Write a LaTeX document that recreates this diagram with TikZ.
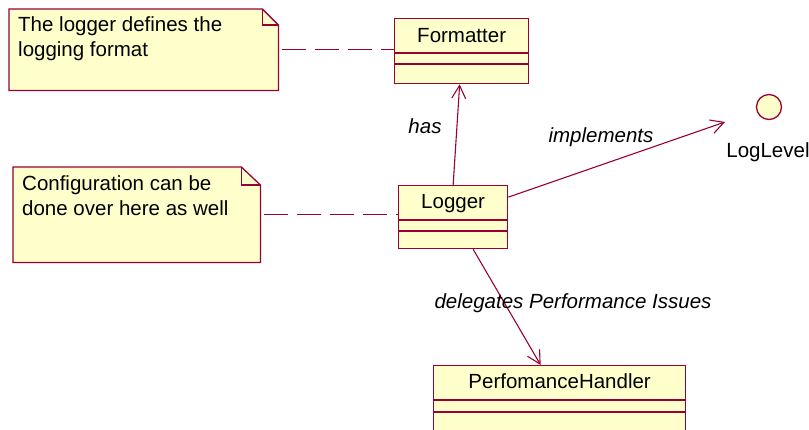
\documentclass[tikz,border=0pt]{standalone}
\usepackage{fontspec}
\setmainfont{Liberation Sans}
\usetikzlibrary{arrows.meta,calc}
\definecolor{umlred}{RGB}{153,0,51}
\definecolor{umlfill}{RGB}{255,255,204}
\begin{document}
\begin{tikzpicture}[x=1pt,y=-1pt,
  classbox/.style={draw=umlred, fill=umlfill, line width=1.3pt, inner sep=0pt, anchor=north west},
  sepline/.style={draw=umlred, line width=1.3pt},
  notebox/.style={draw=umlred, fill=umlfill, line width=1.3pt, line join=miter},
  notearea/.style={inner sep=0pt, anchor=north west},
  lbl/.style={font=\fontsize{20.5}{25}\selectfont, inner sep=0pt, text=black},
  ilbl/.style={font=\fontsize{20.5}{25}\selectfont\itshape, inner sep=0pt, text=black},
  assoc/.style={draw=umlred, line width=1.1pt, -{Straight Barb[length=13pt,width=14pt,line width=1.1pt]}},
  anchorline/.style={draw=umlred, line width=1.3pt, dash pattern=on 24pt off 9pt, dash phase=-4pt}
]
\useasboundingbox (0,0) rectangle (809,429);

% notes
\node[notearea, minimum width=269pt, minimum height=81pt] (n1) at (9,9) {};
\path[notebox] (n1.north west) -- ([xshift=-16pt]n1.north east) -- ([yshift=-16pt]n1.north east) -- (n1.south east) -- (n1.south west) -- cycle;
\draw[notebox, fill=none] ([xshift=-16pt]n1.north east) |- ([yshift=-16pt]n1.north east);
\node[lbl, anchor=base west, align=left] (n1text) at (18,56) {The logger defines the\\logging format};

\node[notearea, minimum width=247pt, minimum height=95pt] (n2) at (13,167) {};
\path[notebox] (n2.north west) -- ([xshift=-19pt]n2.north east) -- ([yshift=-18pt]n2.north east) -- (n2.south east) -- (n2.south west) -- cycle;
\draw[notebox, fill=none] ([xshift=-19pt]n2.north east) |- ([yshift=-18pt]n2.north east);
\node[lbl, anchor=base west, align=left] (n2text) at (22,215) {Configuration can be\\done over here as well};

% classes
\node[classbox, minimum width=134pt, minimum height=65pt] (fmt) at (394,18) {};
\draw[sepline] ([yshift=-35pt]fmt.north west) -- ([yshift=-35pt]fmt.north east);
\draw[sepline] ([yshift=-46pt]fmt.north west) -- ([yshift=-46pt]fmt.north east);
\node[lbl, anchor=base] (fmtname) at ([yshift=-24pt]fmt.north) {Formatter};

\node[classbox, minimum width=109pt, minimum height=63pt] (logger) at (398,185) {};
\draw[sepline] ([yshift=-35pt]logger.north west) -- ([yshift=-35pt]logger.north east);
\draw[sepline] ([yshift=-46pt]logger.north west) -- ([yshift=-46pt]logger.north east);
\node[lbl, anchor=base] (loggername) at ([yshift=-23pt]logger.north) {Logger};

\node[classbox, minimum width=252pt, minimum height=66pt] (ph) at (433,365) {};
\draw[sepline] ([yshift=-35pt]ph.north west) -- ([yshift=-35pt]ph.north east);
\draw[sepline] ([yshift=-47pt]ph.north west) -- ([yshift=-47pt]ph.north east);
\node[lbl, anchor=base] (phname) at ([yshift=-23pt]ph.north) {PerfomanceHandler};

% interface
\node[circle, draw=umlred, fill=umlfill, line width=1.3pt, minimum size=25pt, inner sep=0pt] (ll) at (769,107) {};
\node[lbl, anchor=base] (lltext) at (768,157) {LogLevel};
\coordinate (lltip) at (725,122);

% note anchors
\draw[anchorline] (n1.east) -- (n1.east -| fmt.west);
\draw[anchorline] (n2.east) -- (n2.east -| logger.west);

% associations
\draw[assoc] (logger.north) -- ([xshift=-2pt]fmt.south);
\draw[assoc] ([yshift=20pt]logger.east) -- (lltip);
\draw[assoc] ([xshift=20pt]logger.south) -- ([xshift=-19pt]ph.north);

% labels
\node[ilbl, anchor=base] (haslbl) at (425,133) {has};
\node[ilbl, anchor=base] (implbl) at (601,142) {implements};
\node[ilbl, anchor=base] (dellbl) at (573,308) {delegates Performance Issues};
\end{tikzpicture}
\end{document}
